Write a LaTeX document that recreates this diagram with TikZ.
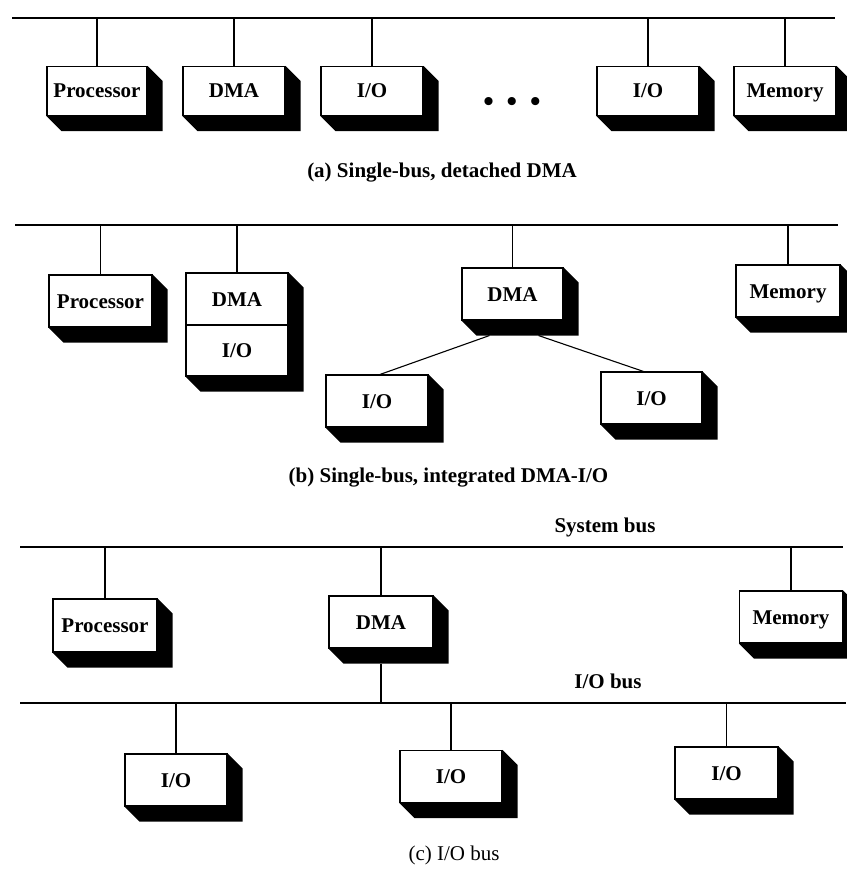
\documentclass[tikz,border=0pt]{standalone}
\usepackage{fontspec}
\setmainfont{Liberation Serif}
\usetikzlibrary{calc}

\tikzset{
  unit/.style={draw, fill=white, line width=1.1pt, minimum width=102pt, minimum height=52pt,
    inner sep=0pt, text height=14pt, text depth=0pt, font=\fontsize{21}{25}\selectfont\bfseries},
  bus/.style={line width=2.6pt},
  drop/.style={line width=1.1pt},
  caption/.style={anchor=base, font=\fontsize{21}{25}\selectfont\bfseries}
}
% black side and bottom of a box (top node, bottom node)
\newcommand{\extrude}[2]{%
  \fill (#1.north east) -- ++(15,15) -- ($(#2.south east)+(15,15)$)
    -- ($(#2.south west)+(15,15)$) -- (#2.south west) -- (#2.south east) -- cycle;}

\begin{document}
\begin{tikzpicture}[x=1pt, y=-1pt]
\useasboundingbox (0,0) rectangle (846,869);

% (a) Lines
\coordinate (busAl) at (12,18);
\coordinate (busAr) at (835,18);
\draw[bus] (busAl) -- (busAr);
% (a) Nodes
\node[unit, minimum width=100pt, minimum height=49pt] (procA) at (97,91) {Processor};
\node[unit, minimum height=49pt] (dmaA) at (234,91) {DMA};
\node[unit, minimum height=49pt] (ioA) at (372,91) {I/O};
\node[font=\fontsize{30}{34}\selectfont\bfseries, anchor=base] (dotsA) at (512,112) {\textbullet\hspace{13pt}\textbullet\hspace{13pt}\textbullet};
\node[unit, minimum height=49pt] (ioAA) at (648,91) {I/O};
\node[unit, minimum height=49pt] (memA) at (785,91) {Memory};
\foreach \n in {procA,dmaA,ioA,ioAA,memA} {
  \extrude{\n}{\n}
  \draw[drop] (\n.north) -- (\n.north |- busAl);
}
\node[caption] (capA) at (442,178) {(a) Single-bus, detached DMA};

% (b) Lines
\coordinate (busBl) at (15,225);
\coordinate (busBr) at (838,225);
\draw[bus] (busBl) -- (busBr);
% (b) Nodes
\node[unit, minimum width=103pt] (procB) at (100.5,301) {Processor};
\node[unit] (dmaB) at (237,299) {DMA};
\node[unit, minimum height=51pt] (ioB) at (237,350.5) {I/O};
\node[unit, minimum width=101pt] (dmaM) at (512.5,294) {DMA};
\node[unit] (ioL) at (377,401) {I/O};
\node[unit, minimum width=101pt] (ioR) at (651.5,398) {I/O};
\node[unit, minimum width=104pt] (memB) at (788,291) {Memory};
\extrude{procB}{procB}
\extrude{dmaB}{ioB}
\extrude{dmaM}{dmaM}
\extrude{ioL}{ioL}
\extrude{ioR}{ioR}
\extrude{memB}{memB}
\foreach \n in {procB,dmaB,dmaM,memB}
  \draw[drop] (\n.north) -- (\n.north |- busBl);
\coordinate (dmaMl) at ($(dmaM.south west)+(28,15)$);
\coordinate (dmaMr) at ($(dmaM.south east)+(-25,15)$);
\draw[drop] (dmaMl) -- ($(ioL.north)+(3,0)$);
\draw[drop] (dmaMr) -- ($(ioR.north)+(-8,0)$);
\node[caption] (capB) at (448.5,482) {(b) Single-bus, integrated DMA-I/O};

% (c) Lines
\node[caption] (sysbus) at (605,532) {System bus};
\coordinate (busCl) at (20,547);
\coordinate (busCr) at (843,547);
\draw[bus] (busCl) -- (busCr);
\node[caption] (iobus) at (608,688) {I/O bus};
\coordinate (busDl) at (20,703);
\coordinate (busDr) at (846,703);
\draw[bus] (busDl) -- (busDr);
% (c) Nodes
\node[unit, minimum width=104pt, minimum height=53pt] (procC) at (105,625.5) {Processor};
\node[unit, minimum width=104pt] (dmaC) at (381,622) {DMA};
\node[unit, minimum width=103pt] (memC) at (791,617) {Memory};
\node[unit] (ioC1) at (176,780) {I/O};
\node[unit] (ioC2) at (451,776.5) {I/O};
\node[unit, minimum width=103pt] (ioC3) at (726.5,773) {I/O};
\foreach \n in {procC,dmaC,memC} {
  \extrude{\n}{\n}
  \draw[drop] (\n.north) -- (\n.north |- busCl);
}
\foreach \n in {ioC1,ioC2,ioC3} {
  \extrude{\n}{\n}
  \draw[drop] (\n.north) -- (\n.north |- busDl);
}
\draw[drop] ($(dmaC.south)+(0,15)$) -- ($(dmaC.south |- busDl)$);
\node[caption, font=\fontsize{21}{25}\selectfont] (capC) at (454,860) {(c) I/O bus};
\end{tikzpicture}
\end{document}
